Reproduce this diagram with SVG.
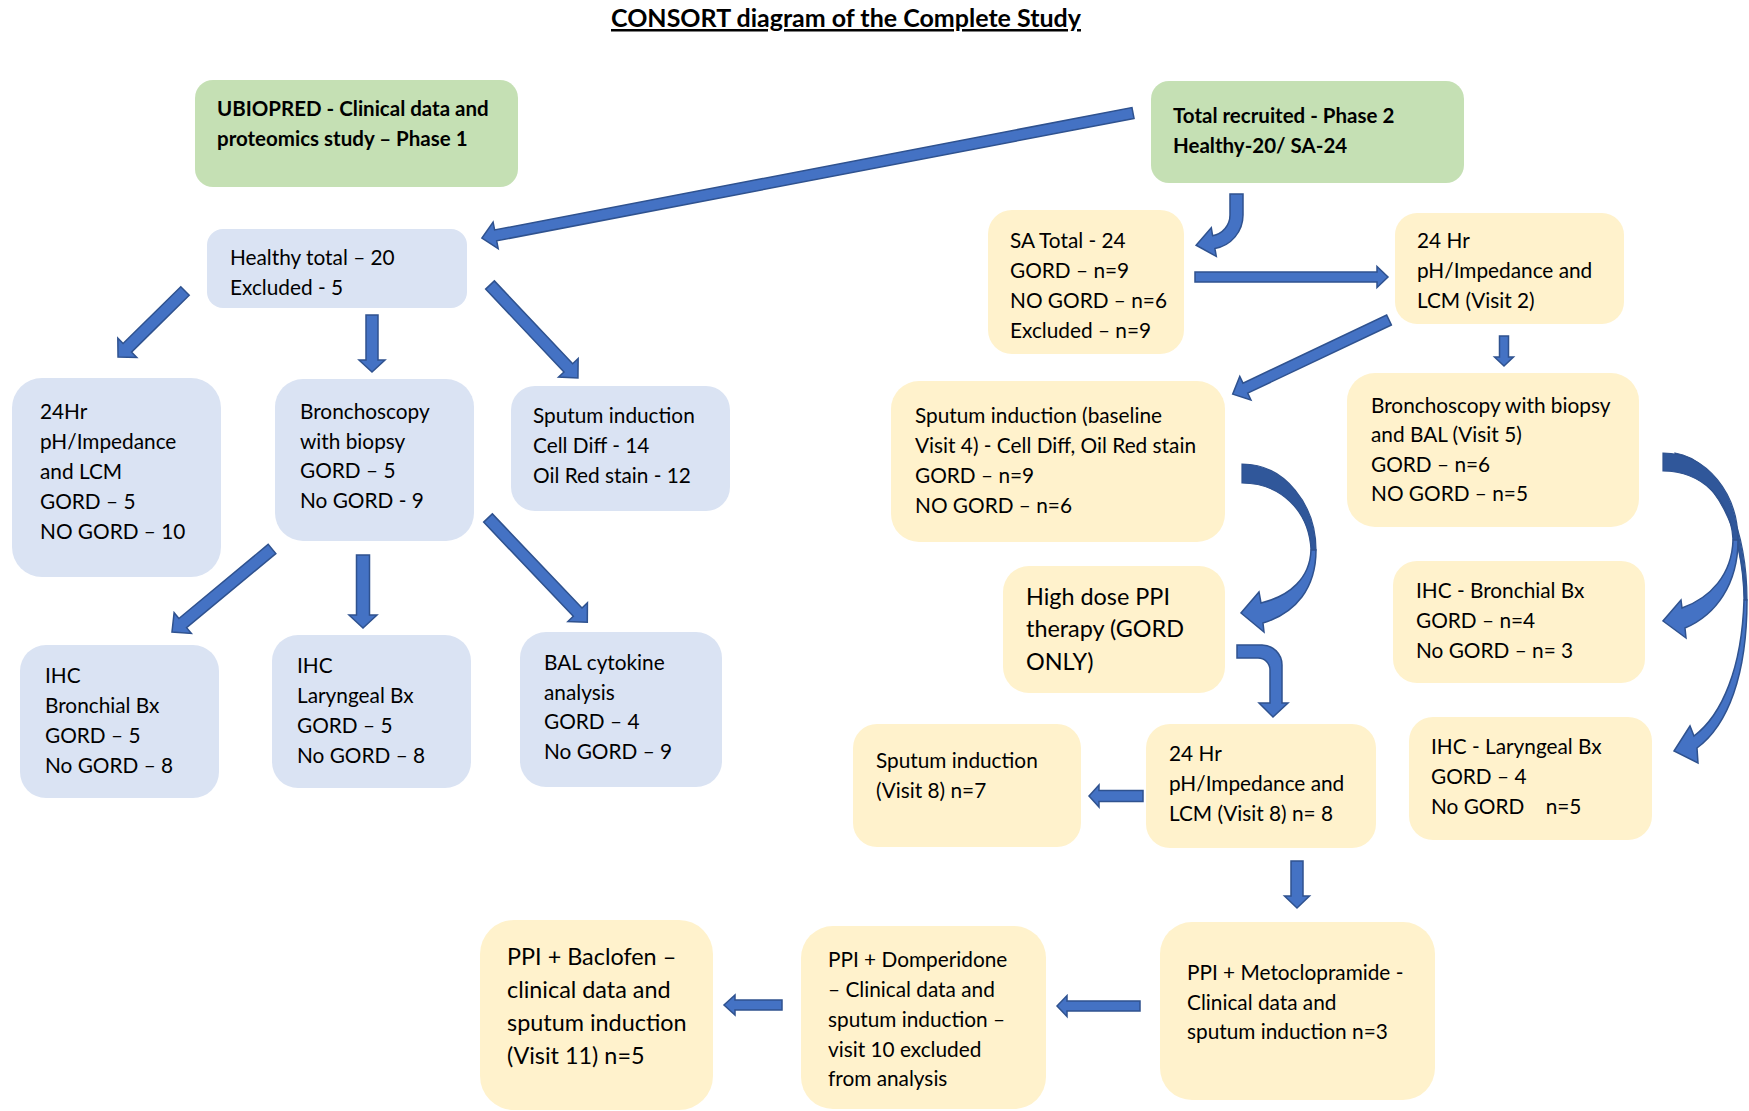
<svg xmlns="http://www.w3.org/2000/svg" width="1749" height="1111" viewBox="0 0 1749 1111">
<style>
.g{fill:#C5E0B4}
.b{fill:#DAE3F3}
.y{fill:#FFF2CC}
text{font-family:Lato,"Liberation Sans",sans-serif;fill:#000}
.t{font-size:20.8px}
.tl{font-size:23.4px}
.tb{font-size:20.5px;font-weight:bold}
.ttl{font-size:25px;font-weight:bold;text-decoration:underline}
.ar{fill:#4472C4;stroke:#2F528F;stroke-width:1.5;stroke-linejoin:miter}
.dk{fill:#30579A;stroke:#2F528F;stroke-width:1.2}
</style>
<rect width="1749" height="1111" fill="#FFFFFF"/>
<text class="ttl" x="846" y="27" text-anchor="middle">CONSORT diagram of the Complete Study</text>

<g id="n1"><rect class="g" x="195" y="80" width="323" height="107" rx="18"/>
<text class="tb" x="217" y="116">UBIOPRED - Clinical data and</text>
<text class="tb" x="217" y="146">proteomics study – Phase 1</text></g>

<g id="n2"><rect class="g" x="1151" y="81" width="313" height="102" rx="18"/>
<text class="tb" x="1173" y="123">Total recruited - Phase 2</text>
<text class="tb" x="1173" y="153">Healthy-20/ SA-24</text></g>

<g id="n3"><rect class="b" x="207" y="229" width="260" height="79" rx="16"/>
<text class="t" x="230" y="265">Healthy total – 20</text>
<text class="t" x="230" y="295">Excluded - 5</text></g>

<g id="n4"><rect class="b" x="12" y="378" width="209" height="199" rx="30"/>
<text class="t" x="40" y="419">24Hr</text>
<text class="t" x="40" y="449">pH/Impedance</text>
<text class="t" x="40" y="479">and LCM</text>
<text class="t" x="40" y="509">GORD – 5</text>
<text class="t" x="40" y="539">NO GORD – 10</text></g>

<g id="n5"><rect class="b" x="275" y="379" width="199" height="162" rx="28"/>
<text class="t" x="300" y="419">Bronchoscopy</text>
<text class="t" x="300" y="449">with biopsy</text>
<text class="t" x="300" y="478">GORD – 5</text>
<text class="t" x="300" y="508">No GORD - 9</text></g>

<g id="n6"><rect class="b" x="511" y="386" width="219" height="125" rx="24"/>
<text class="t" x="533" y="423">Sputum induction</text>
<text class="t" x="533" y="453">Cell Diff - 14</text>
<text class="t" x="533" y="483">Oil Red stain - 12</text></g>

<g id="n7"><rect class="b" x="20" y="645" width="199" height="153" rx="26"/>
<text class="t" x="45" y="683">IHC</text>
<text class="t" x="45" y="713">Bronchial Bx</text>
<text class="t" x="45" y="743">GORD – 5</text>
<text class="t" x="45" y="773">No GORD – 8</text></g>

<g id="n8"><rect class="b" x="272" y="635" width="199" height="153" rx="26"/>
<text class="t" x="297" y="673">IHC</text>
<text class="t" x="297" y="703">Laryngeal Bx</text>
<text class="t" x="297" y="733">GORD – 5</text>
<text class="t" x="297" y="763">No GORD – 8</text></g>

<g id="n9"><rect class="b" x="520" y="632" width="202" height="155" rx="26"/>
<text class="t" x="544" y="670">BAL cytokine</text>
<text class="t" x="544" y="700">analysis</text>
<text class="t" x="544" y="729">GORD – 4</text>
<text class="t" x="544" y="759">No GORD – 9</text></g>

<g id="n10"><rect class="y" x="988" y="210" width="196" height="144" rx="24"/>
<text class="t" x="1010" y="248">SA Total - 24</text>
<text class="t" x="1010" y="278">GORD – n=9</text>
<text class="t" x="1010" y="308">NO GORD – n=6</text>
<text class="t" x="1010" y="338">Excluded – n=9</text></g>

<g id="n11"><rect class="y" x="1395" y="213" width="229" height="111" rx="22"/>
<text class="t" x="1417" y="248">24 Hr</text>
<text class="t" x="1417" y="278">pH/Impedance and</text>
<text class="t" x="1417" y="308">LCM (Visit 2)</text></g>

<g id="n12"><rect class="y" x="891" y="381" width="334" height="161" rx="28"/>
<text class="t" x="915" y="423">Sputum induction (baseline</text>
<text class="t" x="915" y="453">Visit 4) - Cell Diff, Oil Red stain</text>
<text class="t" x="915" y="483">GORD – n=9</text>
<text class="t" x="915" y="513">NO GORD – n=6</text></g>

<g id="n13"><rect class="y" x="1347" y="373" width="292" height="154" rx="28"/>
<text class="t" x="1371" y="413">Bronchoscopy with biopsy</text>
<text class="t" x="1371" y="442">and BAL (Visit 5)</text>
<text class="t" x="1371" y="472">GORD – n=6</text>
<text class="t" x="1371" y="501">NO GORD – n=5</text></g>

<g id="n14"><rect class="y" x="1003" y="566" width="222" height="127" rx="26"/>
<text class="tl" x="1026" y="605">High dose PPI</text>
<text class="tl" x="1026" y="637">therapy (GORD</text>
<text class="tl" x="1026" y="670">ONLY)</text></g>

<g id="n15"><rect class="y" x="1393" y="561" width="252" height="122" rx="24"/>
<text class="t" x="1416" y="598">IHC - Bronchial Bx</text>
<text class="t" x="1416" y="628">GORD – n=4</text>
<text class="t" x="1416" y="658">No GORD – n= 3</text></g>

<g id="n16"><rect class="y" x="1409" y="717" width="243" height="123" rx="24"/>
<text class="t" x="1431" y="754">IHC - Laryngeal Bx</text>
<text class="t" x="1431" y="784">GORD – 4</text>
<text class="t" x="1431" y="814" style="white-space:pre">No GORD    n=5</text></g>

<g id="n17"><rect class="y" x="853" y="724" width="228" height="123" rx="24"/>
<text class="t" x="876" y="768">Sputum induction</text>
<text class="t" x="876" y="798">(Visit 8) n=7</text></g>

<g id="n18"><rect class="y" x="1146" y="724" width="230" height="124" rx="24"/>
<text class="t" x="1169" y="761">24 Hr</text>
<text class="t" x="1169" y="791">pH/Impedance and</text>
<text class="t" x="1169" y="821">LCM (Visit 8) n= 8</text></g>

<g id="n19"><rect class="y" x="1160" y="922" width="275" height="178" rx="32"/>
<text class="t" x="1187" y="980">PPI + Metoclopramide -</text>
<text class="t" x="1187" y="1010">Clinical data and</text>
<text class="t" x="1187" y="1039">sputum induction n=3</text></g>

<g id="n20"><rect class="y" x="801" y="926" width="245" height="183" rx="32"/>
<text class="t" x="828" y="967">PPI + Domperidone</text>
<text class="t" x="828" y="997">– Clinical data and</text>
<text class="t" x="828" y="1027">sputum induction –</text>
<text class="t" x="828" y="1057">visit 10 excluded</text>
<text class="t" x="828" y="1086">from analysis</text></g>

<g id="n21"><rect class="y" x="480" y="920" width="233" height="190" rx="34"/>
<text class="tl" x="507" y="965">PPI + Baclofen –</text>
<text class="tl" x="507" y="998">clinical data and</text>
<text class="tl" x="507" y="1031">sputum induction</text>
<text class="tl" x="507" y="1064">(Visit 11) n=5</text></g>

<g id="connectors">
<path class="ar" transform="translate(1133,113) rotate(169.13)" d="M0,-5.5 H649 V-13.5 L663,0 L649,13.5 V5.5 H0 Z"/>
<path class="ar" transform="translate(185,291) rotate(135.44)" d="M0,-6 H81 V-13.5 L94,0 L81,13.5 V6 H0 Z"/>
<path class="ar" transform="translate(372,315) rotate(90)" d="M0,-6 H45 V-13 L57,0 L45,13 V6 H0 Z"/>
<path class="ar" transform="translate(490,285) rotate(46.6)" d="M0,-6 H114 V-13.5 L128,0 L114,13.5 V6 H0 Z"/>
<path class="ar" transform="translate(272,549) rotate(140.3)" d="M0,-6 H116 V-13.5 L130,0 L116,13.5 V6 H0 Z"/>
<path class="ar" transform="translate(363,555) rotate(90)" d="M0,-6.5 H60 V-14 L73,0 L60,14 V6.5 H0 Z"/>
<path class="ar" transform="translate(488,518) rotate(46.4)" d="M0,-6 H130 V-13.5 L144,0 L130,13.5 V6 H0 Z"/>
<path class="ar" d="M1230,194 H1243 V215 A34,34 0 0 1 1214.9,248.5 L1216.3,256.4 L1196.1,245.2 L1211.3,227.8 L1212.6,235.7 A21,21 0 0 0 1230,215 Z"/>
<path class="ar" transform="translate(1195,277)" d="M0,-5 H182 V-10.5 L193,0 L182,10.5 V5 H0 Z"/>
<path class="ar" transform="translate(1389,320) rotate(154.62)" d="M0,-5.5 H159 V-13 L173,0 L159,13 V5.5 H0 Z"/>
<path class="ar" transform="translate(1504,336) rotate(90)" d="M0,-4.5 H21 V-9.5 L30,0 L21,9.5 V4.5 H0 Z"/>
<path class="dk" d="M1242,464 C1285,464 1316,505 1316,550 L1311,550 C1309,510 1280,483 1242,483 Z"/>
<path class="ar" d="M1316,550 C1316,588 1296,613 1263,623 L1264,632 L1241,613 L1259,592 L1261,603 C1290,596 1310,578 1311,550 Z"/>
<path class="ar" d="M1237,645 H1262 A20,20 0 0 1 1282,665 V703 H1288 L1273,717 L1259,703 H1270 V670 A12,12 0 0 0 1258,658 H1237 Z"/>
<path class="dk" d="M1675,453 C1720,460 1747,530 1747,600 L1744,600 C1743,530 1715,472 1675,470 Z"/>
<path class="ar" d="M1747,600 C1747,675 1728,725 1697,748 L1698,763 L1674,751 L1690,726 L1694,736 C1722,715 1742,668 1744,600 Z"/>
<path class="dk" d="M1663,453 C1708,453 1738,495 1738,540 L1733,540 C1731,500 1702,471 1663,471 Z"/>
<path class="ar" d="M1738,540 C1738,584 1716,615 1685,628 L1686,638 L1663,621 L1681,600 L1682,608 C1710,598 1732,575 1733,540 Z"/>
<path class="ar" transform="translate(1143,796) rotate(180)" d="M0,-5.5 H44 V-11 L54,0 L44,11 V5.5 H0 Z"/>
<path class="ar" transform="translate(1297,861) rotate(90)" d="M0,-6 H35 V-12.5 L47,0 L35,12.5 V6 H0 Z"/>
<path class="ar" transform="translate(1140,1006) rotate(180)" d="M0,-5 H73 V-10.5 L83,0 L73,10.5 V5 H0 Z"/>
<path class="ar" transform="translate(782,1005) rotate(180)" d="M0,-5 H47 V-10 L58,0 L47,10 V5 H0 Z"/>
</g>
</svg>
